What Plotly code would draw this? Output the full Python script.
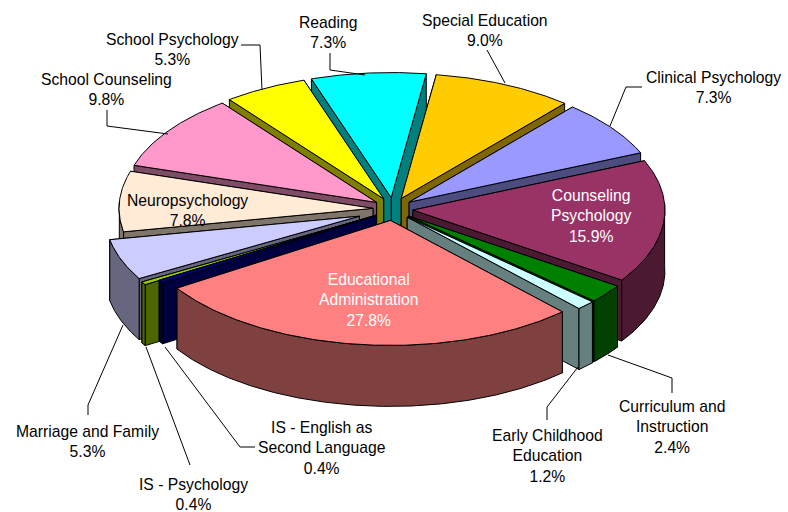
import math
import plotly.graph_objects as go

categories = ["Special Education", "Clinical Psychology", "Counseling Psychology", "Curriculum and Instruction",
              "Early Childhood Education", "Educational Administration", "IS - English as Second Language",
              "IS - Psychology", "Marriage and Family", "Neuropsychology", "School Counseling",
              "School Psychology", "Reading"]
values = [9.0, 7.3, 15.9, 2.4, 1.2, 27.8, 0.4, 0.4, 5.3, 7.8, 9.8, 5.3, 7.3]
top_colors = ["#FFCC00", "#9999FF", "#993366", "#008000", "#CCFFFF", "#FF8080", "#000080",
              "#99CC00", "#CCCCFF", "#FFEBD6", "#FF99CC", "#FFFF00", "#00FFFF"]
pull = [1, 1, 1, 1, 1, 1, 1, 1.8, 1.8, 1, 1, 1, 1]

CX, CY = 393, 209
EX, EY = 20, 11.5
RX_R, RX_L = 252, 254
RY = 125
DEPTH = 61
START = 8.0

def dark(h, f=0.5):
    r, g, b = [int(h[i:i + 2], 16) for i in (1, 3, 5)]
    return f"rgb({int(r*f)},{int(g*f)},{int(b*f)})"

def rim(a):
    t = math.radians(a)
    s, c = math.sin(t), math.cos(t)
    return (RX_R if s > 0 else RX_L) * s, -RY * c

fig = go.Figure()

def poly(pts, color):
    xs = [p[0] for p in pts] + [pts[0][0]]
    ys = [p[1] for p in pts] + [pts[0][1]]
    fig.add_trace(go.Scatter(x=xs, y=ys, mode="lines", fill="toself", fillcolor=color,
                             line=dict(color="black", width=1), hoverinfo="skip", showlegend=False))

slices = []
cum = 0.0
tot = sum(values)
for v, col, p in zip(values, top_colors, pull):
    a0 = START + cum / tot * 360
    a1 = START + (cum + v) / tot * 360
    cum += v
    slices.append((a0, a1, col, p))

slices.sort(key=lambda s: -math.cos(math.radians((s[0] + s[1]) / 2)))
for a0, a1, col, p in slices:
    mid = math.radians((a0 + a1) / 2)
    ax = CX + EX * p * math.sin(mid)
    ay = CY - EY * p * math.cos(mid)
    n = max(4, int(a1 - a0) * 2)
    arc = [rim(a0 + (a1 - a0) * i / n) for i in range(n + 1)]
    arc = [(ax + x, ay + y) for x, y in arc]
    down = lambda q: (q[0], q[1] + DEPTH)
    apex = (ax, ay)
    w = dark(col)
    walls = [[apex, arc[0], down(arc[0]), down(apex)], [apex, arc[-1], down(arc[-1]), down(apex)]]
    walls.sort(key=lambda w_: w_[1][1])
    for wp in walls:
        poly(wp, w)
    front = [(q, a0 + (a1 - a0) * i / n) for i, q in enumerate(arc)]
    front = [q for q, a in front if math.cos(math.radians(a)) <= 0.05]
    if len(front) >= 2:
        poly(front + [down(q) for q in reversed(front)], w)
    poly([apex] + arc, col)

labels = [
    ("Reading<br>7.3%", 328, 32, "black"),
    ("Special Education<br>9.0%", 485, 30, "black"),
    ("Clinical Psychology<br>7.3%", 713, 87, "black"),
    ("School Psychology<br>5.3%", 172, 49, "black"),
    ("School Counseling<br>9.8%", 106, 89, "black"),
    ("Neuropsychology<br>7.8%", 187, 210, "black"),
    ("Counseling<br>Psychology<br>15.9%", 591, 216, "white"),
    ("Educational<br>Administration<br>27.8%", 368, 300, "white"),
    ("Curriculum and<br>Instruction<br>2.4%", 672, 427, "black"),
    ("Early Childhood<br>Education<br>1.2%", 547, 456, "black"),
    ("IS - English as<br>Second Language<br>0.4%", 322, 448, "black"),
    ("IS - Psychology<br>0.4%", 193, 494, "black"),
    ("Marriage and Family<br>5.3%", 87, 441, "black"),
]
leaders = [
    ([330, 330, 365], [53, 70, 75]),
    ([487, 505], [50, 83]),
    ([642, 626, 610], [87, 87, 126]),
    ([241, 260, 262], [45, 45, 90]),
    ([107, 107, 168], [110, 126, 134]),
    ([88, 88, 123], [415, 405, 325]),
    ([190, 146], [465, 347]),
    ([255, 240, 165], [447, 447, 347]),
    ([547, 547, 578], [420, 407, 367]),
    ([672, 672, 608], [393, 378, 355]),
]
for lx, ly in leaders:
    fig.add_trace(go.Scatter(x=lx, y=ly, mode="lines", line=dict(color="black", width=1),
                             hoverinfo="skip", showlegend=False))

for t, x, y, c in labels:
    fig.add_annotation(x=x, y=y, text=t, showarrow=False, xanchor="center", yanchor="middle",
                       font=dict(family="Liberation Sans, Arial", size=15.7, color=c), align="center")

fig.update_layout(width=788, height=512, margin=dict(l=0, r=0, t=0, b=0),
                  paper_bgcolor="white", plot_bgcolor="white",
                  xaxis=dict(range=[0, 788], visible=False, fixedrange=True),
                  yaxis=dict(range=[512, 0], visible=False, fixedrange=True))
fig.write_html("out.html", config={"displayModeBar": False},
               post_script="document.body.style.margin='0';document.body.style.overflow='hidden';")
